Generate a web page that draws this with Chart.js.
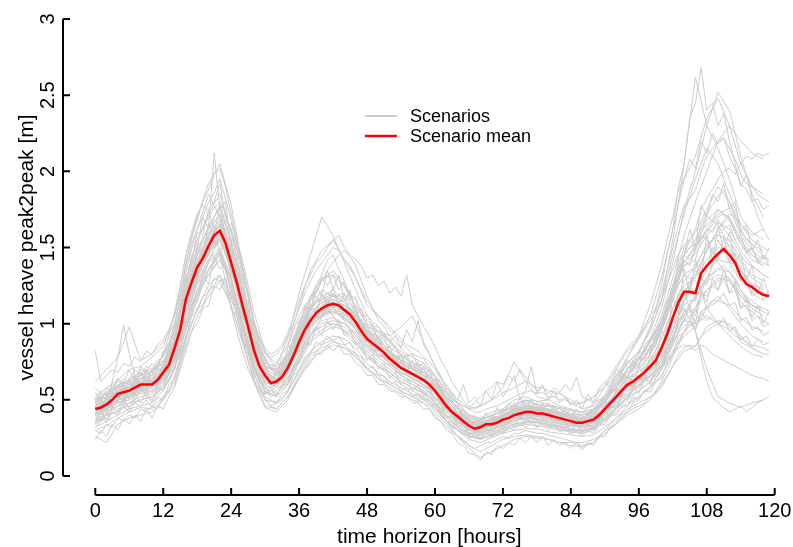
<!DOCTYPE html>
<html>
<head>
<meta charset="utf-8">
<script src="https://cdn.jsdelivr.net/npm/chart.js@4.4.1/dist/chart.umd.min.js"></script>
<style>
  html, body { margin: 0; padding: 0; background: #fff; }
  canvas { display: block; }
</style>
</head>
<body>
<canvas id="heave" width="793" height="547"></canvas>
<script>
// hourly scenario mean (hours 0..119)
const hours = [];
for (let h = 0; h < 120; h++) hours.push(h);
const meanHeave = [
  0.44,0.45,0.47,0.50,0.54,0.55,0.56,0.58,0.60,0.60,0.60,0.63,0.68,0.73,0.84,0.96,1.16,1.27,1.37,1.43,
  1.51,1.58,1.61,1.53,1.40,1.27,1.12,0.98,0.83,0.72,0.66,0.61,0.62,0.65,0.71,0.79,0.88,0.96,1.02,1.07,
  1.10,1.12,1.13,1.12,1.09,1.06,1.01,0.95,0.90,0.87,0.84,0.81,0.77,0.74,0.71,0.69,0.67,0.65,0.63,0.60,
  0.56,0.51,0.46,0.42,0.39,0.36,0.33,0.31,0.32,0.34,0.34,0.35,0.37,0.38,0.40,0.41,0.42,0.42,0.41,0.41,
  0.40,0.39,0.38,0.37,0.36,0.35,0.35,0.36,0.37,0.40,0.44,0.48,0.52,0.56,0.60,0.62,0.65,0.68,0.72,0.76,
  0.84,0.93,1.04,1.14,1.21,1.21,1.20,1.33,1.38,1.42,1.46,1.49,1.45,1.40,1.31,1.26,1.24,1.21,1.19,1.18
];

// scenarios read every 2 hours (0..118)
const scenHours = [];
for (let h = 0; h < 120; h += 2) scenHours.push(h);

const s01 = [.52,.58,.63,.70,.72,.78,.85,1.05,1.45,1.70,1.92,2.05,1.78,1.38,1.02,.80,.74,.86,1.12,1.35,1.48,1.55,1.42,1.30,1.12,1.05,.96,.88,.80,.77,.66,.55,.47,.40,.38,.42,.44,.50,.52,.49,.50,.46,.44,.42,.47,.58,.70,.82,.90,1.05,1.30,1.62,1.95,2.10,2.35,2.48,2.30,2.05,1.90,1.85];
const s02 = [.30,.33,.38,.42,.45,.44,.52,.62,.88,1.10,1.25,1.32,1.18,.92,.68,.50,.48,.55,.70,.82,.88,.92,.90,.84,.74,.68,.62,.58,.54,.51,.44,.36,.30,.24,.22,.25,.28,.30,.31,.31,.29,.28,.27,.26,.27,.32,.38,.44,.48,.52,.58,.72,.82,.85,.98,1.02,1.00,.92,.84,.80];
const s03 = [.48,.55,.50,.62,.58,.70,.74,.95,1.25,1.50,1.62,1.78,1.55,1.20,.88,.70,.66,.78,.95,1.10,1.22,1.18,1.20,1.08,.95,.92,.80,.78,.70,.68,.60,.50,.42,.36,.35,.38,.40,.45,.48,.44,.46,.42,.40,.38,.44,.52,.62,.74,.82,.95,1.15,1.55,2.05,2.62,2.30,2.15,1.95,1.70,1.60,1.55];
const s04 = [.40,.44,.50,.52,.58,.55,.62,.78,1.08,1.28,1.42,1.55,1.35,1.08,.78,.62,.58,.68,.84,.98,1.05,1.10,1.04,.96,.88,.80,.74,.68,.64,.60,.52,.42,.36,.30,.28,.31,.34,.36,.38,.37,.36,.34,.33,.32,.34,.40,.48,.56,.62,.70,.82,1.00,1.10,.95,.70,.52,.48,.45,.48,.50];
const s05 = [.36,.42,.48,.50,.55,.58,.70,.98,1.35,1.62,1.85,1.70,1.30,.95,.72,.58,.60,.75,.98,1.12,1.18,1.10,1.02,.92,.84,.78,.72,.66,.62,.58,.50,.40,.34,.28,.27,.30,.33,.38,.40,.40,.38,.36,.34,.33,.36,.45,.55,.66,.72,.84,1.00,1.25,1.45,1.55,1.70,1.65,1.50,1.35,1.25,1.20];
const s06 = [.50,.52,.58,.60,.62,.64,.66,.76,1.00,1.22,1.40,1.58,1.66,1.42,1.08,.82,.70,.72,.82,.96,1.06,1.14,1.12,1.06,.96,.90,.82,.76,.72,.68,.62,.52,.44,.38,.36,.36,.39,.42,.45,.44,.43,.41,.39,.37,.38,.42,.50,.58,.64,.70,.80,.95,1.15,1.32,1.48,1.62,1.70,1.55,1.45,1.38];
const s07 = [.55,.46,.60,.52,.68,.58,.72,.80,1.20,1.32,1.58,1.64,1.45,1.10,.85,.64,.66,.70,.90,1.05,1.08,1.20,1.05,1.04,.88,.86,.74,.74,.64,.66,.54,.48,.36,.35,.30,.36,.35,.42,.40,.44,.38,.40,.34,.37,.35,.46,.50,.64,.62,.76,.82,1.10,1.20,1.35,1.25,1.55,1.40,1.38,1.18,1.25];
const s08 = [.62,.70,.78,.98,.76,.80,.88,1.00,1.30,1.48,1.62,1.72,1.48,1.20,.90,.72,.68,.80,.98,1.15,1.28,1.35,1.25,1.15,1.02,.95,.88,.80,.74,.72,.64,.52,.45,.40,.37,.40,.43,.47,.50,.47,.46,.44,.41,.40,.43,.50,.60,.70,.78,.88,1.02,1.25,1.50,1.60,1.75,1.90,1.80,1.60,1.52,1.48];
const s09 = [.26,.22,.34,.38,.40,.42,.50,.60,.85,1.05,1.18,1.28,1.12,.88,.62,.46,.44,.52,.66,.78,.84,.88,.86,.80,.70,.64,.58,.54,.50,.48,.40,.32,.26,.20,.16,.20,.24,.26,.27,.26,.24,.22,.22,.20,.22,.28,.34,.40,.44,.50,.62,.78,.95,1.02,1.12,1.18,1.10,1.00,.92,.88];
const s10 = [.42,.48,.56,.58,.64,.62,.70,.86,1.20,1.40,1.58,1.68,1.50,1.18,.86,.68,.64,.74,.92,1.06,1.16,1.18,1.14,1.06,.94,.88,.80,.74,.70,.66,.58,.48,.40,.34,.33,.36,.38,.42,.44,.42,.42,.40,.38,.36,.40,.50,.60,.70,.76,.88,1.05,1.30,1.58,1.80,2.00,2.20,2.30,2.20,2.12,2.08];
const s11 = [.46,.50,.54,.58,.60,.64,.72,.90,1.22,1.45,1.60,1.68,1.46,1.18,.90,.74,.72,.90,1.20,1.45,1.70,1.58,1.40,1.22,1.05,.98,.88,.80,.74,.70,.62,.50,.42,.36,.34,.36,.40,.44,.46,.44,.42,.40,.38,.36,.38,.46,.54,.62,.68,.76,.90,1.10,1.28,1.38,1.52,1.58,1.55,1.42,1.32,1.28];
const s12 = [.38,.40,.46,.48,.52,.54,.60,.74,1.02,1.22,1.35,1.45,1.25,.98,.70,.55,.52,.60,.76,.90,.96,1.00,.98,.90,.80,.74,.68,.62,.58,.55,.48,.38,.32,.26,.25,.28,.31,.34,.36,.35,.34,.32,.30,.30,.31,.38,.45,.52,.56,.62,.72,.88,1.02,1.08,1.22,1.30,1.28,1.18,1.10,1.05];
const s13 = [.44,.46,.52,.55,.58,.62,.66,.80,1.12,1.34,1.48,1.60,1.38,1.10,.82,.66,.62,.70,.86,1.00,1.08,1.12,1.10,1.05,.98,.95,.92,.98,1.05,.88,.72,.58,.48,.44,.46,.50,.58,.75,.62,.52,.50,.55,.48,.44,.46,.52,.60,.68,.74,.82,.96,1.18,1.40,1.52,1.68,1.75,1.68,1.52,1.42,1.38];
const s14 = [.36,.38,.44,.46,.50,.52,.60,.76,1.08,1.28,1.42,1.50,1.30,1.02,.76,.60,.56,.64,.80,.94,1.02,1.04,1.00,.92,.82,.76,.70,.64,.60,.56,.48,.36,.26,.18,.12,.16,.20,.24,.26,.25,.24,.22,.20,.19,.22,.30,.38,.46,.52,.58,.70,.86,1.05,1.18,1.30,1.36,1.34,1.22,1.12,1.08];
const s15 = [.58,.50,.64,.56,.70,.66,.80,.92,1.28,1.55,1.72,1.85,1.60,1.25,.92,.72,.70,.80,1.00,1.18,1.30,1.32,1.24,1.12,1.00,.94,.84,.80,.72,.70,.62,.52,.44,.38,.36,.40,.42,.46,.50,.46,.46,.44,.40,.40,.44,.52,.64,.74,.82,.96,1.15,1.45,1.72,1.95,2.15,2.05,1.85,1.65,1.58,1.62];
const s16 = [.34,.40,.42,.48,.50,.52,.58,.70,.96,1.18,1.32,1.42,1.30,1.02,.74,.58,.54,.62,.78,.92,1.00,1.02,1.00,.94,.84,.78,.72,.66,.62,.58,.52,.42,.35,.30,.29,.31,.34,.37,.39,.38,.37,.35,.33,.32,.33,.38,.44,.50,.56,.62,.70,.82,.95,1.10,1.30,1.45,1.52,1.40,1.30,1.25];
const s17 = [.48,.52,.60,.62,.66,.68,.74,.90,1.24,1.46,1.64,1.76,1.52,1.22,.90,.70,.66,.76,.94,1.10,1.18,1.22,1.16,1.08,.96,.90,.82,.76,.72,.68,.60,.50,.42,.36,.35,.37,.40,.44,.46,.45,.44,.42,.40,.38,.41,.48,.58,.68,.74,.84,.98,1.20,1.40,1.50,1.62,1.72,1.76,1.58,1.48,1.42];
const s18 = [.40,.45,.50,.54,.56,.58,.64,.80,1.10,1.30,1.46,1.56,1.36,1.06,.80,.64,.60,.68,.84,.98,1.06,1.08,1.04,.98,.86,.80,.74,.68,.64,.60,.54,.44,.37,.31,.30,.33,.36,.39,.41,.40,.39,.37,.35,.34,.36,.42,.50,.58,.62,.68,.78,.92,1.02,1.00,1.05,1.00,.92,.85,.80,.78];
const s19 = [.42,.44,.48,.52,.54,.56,.62,.76,1.05,1.26,1.40,1.48,1.22,.90,.62,.45,.42,.50,.64,.76,.82,.86,.84,.78,.70,.66,.60,.56,.52,.50,.44,.36,.30,.26,.25,.27,.30,.33,.35,.35,.34,.33,.31,.30,.32,.40,.48,.56,.60,.66,.76,.90,1.08,1.18,1.28,1.32,1.30,1.20,1.12,1.10];
const s20 = [.44,.50,.56,.58,.62,.62,.70,.86,1.18,1.40,1.55,1.65,1.42,1.14,.84,.66,.62,.72,.90,1.04,1.12,1.14,1.10,1.02,.92,.86,.78,.72,.68,.64,.56,.46,.39,.33,.32,.35,.38,.42,.44,.43,.42,.40,.38,.37,.40,.48,.58,.68,.76,.90,1.10,1.40,1.75,2.00,2.30,2.52,2.40,2.10,1.85,1.70];
const s21 = [.46,.49,.55,.57,.61,.61,.69,.86,1.15,1.38,1.50,1.62,1.42,1.12,.84,.67,.63,.72,.89,1.03,1.11,1.14,1.10,1.02,.91,.85,.78,.72,.68,.64,.57,.47,.40,.34,.33,.35,.38,.41,.43,.42,.41,.39,.37,.36,.38,.45,.53,.61,.66,.74,.86,1.06,1.25,1.30,1.42,1.50,1.48,1.34,1.26,1.22];
const s22 = [.40,.44,.50,.52,.56,.58,.64,.80,1.12,1.32,1.48,1.58,1.38,1.10,.80,.64,.60,.68,.86,1.00,1.08,1.10,1.06,.98,.88,.82,.76,.70,.66,.62,.55,.45,.38,.32,.31,.33,.36,.39,.41,.40,.39,.37,.35,.34,.36,.43,.51,.58,.63,.70,.82,1.00,1.16,1.22,1.35,1.42,1.40,1.28,1.20,1.15];
const s23 = [.50,.54,.58,.62,.64,.66,.72,.88,1.20,1.42,1.56,1.66,1.45,1.15,.86,.68,.64,.74,.92,1.06,1.14,1.16,1.12,1.04,.93,.87,.80,.74,.70,.66,.58,.48,.41,.35,.34,.36,.39,.43,.45,.43,.42,.40,.38,.37,.39,.46,.55,.64,.70,.80,.95,1.18,1.38,1.46,1.58,1.66,1.62,1.48,1.38,1.32];
const s24 = [.32,.36,.40,.44,.46,.48,.56,.70,.98,1.20,1.36,1.46,1.28,1.00,.72,.56,.52,.60,.74,.88,.94,.98,.96,.88,.78,.72,.66,.60,.56,.52,.46,.36,.30,.26,.24,.26,.29,.32,.34,.33,.32,.30,.29,.28,.30,.36,.42,.48,.52,.58,.66,.80,.92,.98,1.10,1.15,1.12,1.04,.98,.95];
const coarseScenarios = [s01,s02,s03,s04,s05,s06,s07,s08,s09,s10,s11,s12,s13,s14,s15,s16,s17,s18,s19,s20,s21,s22,s23,s24];

// scenarios read hour by hour (0..119)
const h01 = [.52,.48,.58,.55,.64,.60,.70,.62,.72,.68,.74,.70,.82,.80,.98,1.05,1.35,1.40,1.60,1.58,1.75,1.80,1.92,1.70,1.62,1.42,1.30,1.10,.98,.82,.78,.70,.74,.72,.84,.88,1.02,1.08,1.18,1.20,1.30,1.25,1.32,1.22,1.28,1.15,1.18,1.05,1.06,.98,.98,.92,.90,.84,.82,.78,.80,.72,.74,.68,.66,.58,.55,.48,.46,.40,.40,.35,.38,.38,.40,.38,.44,.42,.48,.45,.50,.46,.48,.44,.48,.42,.45,.40,.44,.38,.42,.40,.44,.45,.52,.54,.62,.62,.72,.70,.78,.76,.86,.85,1.00,1.05,1.25,1.30,1.45,1.42,1.48,1.60,1.65,1.68,1.75,1.72,1.70,1.62,1.55,1.48,1.50,1.42,1.45,1.40];
const h02 = [.34,.38,.35,.42,.40,.46,.42,.48,.46,.50,.45,.52,.50,.60,.64,.78,.90,1.05,1.08,1.18,1.20,1.30,1.28,1.30,1.15,1.08,.90,.84,.66,.60,.52,.50,.48,.54,.56,.66,.70,.78,.80,.88,.86,.92,.88,.92,.86,.88,.80,.78,.70,.72,.66,.66,.60,.62,.56,.58,.52,.54,.50,.50,.44,.42,.36,.35,.30,.30,.25,.26,.24,.28,.26,.30,.28,.32,.30,.34,.32,.35,.32,.34,.30,.33,.29,.31,.27,.30,.26,.30,.28,.33,.34,.40,.40,.46,.46,.52,.50,.56,.55,.62,.64,.75,.80,.92,.94,1.00,.96,1.08,1.10,1.15,1.15,1.20,1.12,1.14,1.02,1.04,.96,.98,.92,.95];
const h03 = [.45,.52,.40,.56,.48,.62,.50,.66,.55,.70,.58,.72,.66,.85,.88,1.10,1.25,1.45,1.50,1.70,1.62,2.12,1.75,1.80,1.50,1.45,1.18,1.15,.90,.85,.70,.72,.66,.78,.75,.92,.95,1.12,1.08,1.25,1.18,1.35,1.22,1.32,1.15,1.22,1.05,1.10,.95,1.00,.88,.92,.80,.86,.74,.80,.70,.75,.65,.70,.58,.60,.48,.50,.40,.44,.35,.40,.32,.42,.36,.45,.40,.48,.42,.52,.44,.50,.42,.48,.40,.46,.38,.45,.36,.44,.34,.42,.38,.46,.46,.58,.56,.68,.64,.76,.72,.85,.80,.95,.98,1.15,1.20,1.42,1.45,1.62,1.50,1.78,1.70,1.85,1.80,1.92,1.75,1.80,1.60,1.65,1.48,1.55,1.42,1.50];
const h04 = [.30,.28,.34,.32,.38,.36,.40,.38,.44,.42,.46,.44,.52,.56,.66,.76,.92,1.00,1.10,1.12,1.22,1.25,1.32,1.22,1.12,1.00,.88,.76,.64,.56,.50,.46,.48,.50,.56,.62,.68,.74,.80,.82,.86,.88,.90,.86,.84,.82,.78,.74,.70,.68,.64,.62,.60,.58,.55,.54,.52,.50,.48,.46,.42,.38,.34,.30,.26,.24,.20,.18,.20,.22,.22,.24,.26,.25,.28,.28,.30,.29,.28,.28,.27,.26,.25,.24,.23,.22,.22,.23,.24,.26,.30,.32,.36,.38,.42,.44,.46,.48,.52,.54,.60,.66,.72,.80,.84,.86,.85,.92,.95,.98,1.00,1.02,.98,.95,.88,.86,.84,.82,.80,.80];
const h05 = [.48,.44,.52,.50,.56,.58,.55,.62,.60,.64,.62,.66,.72,.78,.90,1.02,1.22,1.32,1.45,1.50,1.58,1.66,1.70,1.60,1.45,1.32,1.18,1.02,.88,.76,.70,.64,.66,.70,.76,.84,.94,1.02,1.08,1.14,1.16,1.20,1.18,1.18,1.14,1.10,1.06,1.00,.94,.92,.88,.86,.82,.78,.76,.72,.72,.68,.68,.64,.60,.55,.50,.46,.42,.40,.36,.34,.35,.36,.38,.38,.40,.41,.44,.44,.46,.45,.44,.45,.44,.42,.42,.40,.40,.38,.38,.40,.42,.45,.50,.54,.60,.66,.70,.76,.80,.90,.98,1.10,1.25,1.45,1.62,1.90,2.05,2.35,2.45,2.68,2.40,2.45,2.30,2.38,2.20,2.05,1.90,1.98,1.82,1.70,1.62,1.55];
const h06 = [.40,.46,.44,.50,.56,.52,.60,.58,.56,.64,.62,.60,.70,.76,.82,.98,1.12,1.30,1.34,1.48,1.46,1.62,1.58,1.55,1.36,1.30,1.08,1.00,.80,.74,.62,.64,.60,.68,.70,.82,.86,.98,1.00,1.10,1.06,1.16,1.10,1.15,1.05,1.08,.98,.98,.88,.90,.82,.84,.76,.78,.70,.72,.66,.68,.62,.62,.54,.52,.44,.44,.36,.38,.30,.32,.30,.36,.32,.38,.35,.40,.38,.44,.40,.45,.40,.44,.38,.42,.36,.40,.34,.38,.33,.38,.35,.42,.42,.50,.50,.58,.58,.66,.64,.72,.70,.80,.82,.98,1.02,1.20,1.18,1.28,1.15,1.40,1.35,1.50,1.42,1.56,1.40,1.46,1.28,1.32,1.20,1.25,1.15,1.22];
const h07 = [.82,.62,.66,.70,.68,.74,.72,.78,.75,.82,.80,.86,.90,.96,1.05,1.20,1.38,1.52,1.62,1.70,1.80,1.86,1.95,1.82,1.68,1.52,1.35,1.18,1.00,.90,.82,.78,.80,.84,.92,1.00,1.10,1.20,1.28,1.35,1.40,1.45,1.50,1.48,1.42,1.38,1.30,1.22,1.15,1.10,1.05,1.02,.98,.94,.90,.86,.84,.82,.78,.75,.70,.64,.60,.55,.50,.48,.44,.42,.42,.44,.45,.46,.48,.50,.52,.54,.55,.56,.54,.55,.52,.52,.50,.50,.48,.47,.48,.50,.52,.56,.60,.66,.72,.78,.84,.88,.92,.98,1.05,1.10,1.20,1.35,1.50,1.65,1.78,1.82,1.88,2.00,2.10,2.15,2.20,2.22,2.15,2.08,1.98,1.92,1.90,1.85,1.82,1.80];
const h08 = [.24,.30,.26,.34,.30,.38,.34,.40,.36,.44,.38,.46,.44,.52,.58,.70,.82,.95,1.00,1.10,1.12,1.25,1.22,1.30,1.10,1.05,.90,.82,.68,.58,.50,.46,.44,.48,.52,.58,.64,.70,.74,.80,.80,.86,.82,.86,.80,.80,.74,.72,.66,.66,.60,.60,.56,.55,.52,.52,.48,.48,.44,.44,.38,.36,.30,.28,.22,.20,.15,.14,.10,.16,.14,.20,.18,.22,.20,.25,.22,.26,.22,.26,.20,.24,.20,.22,.18,.22,.17,.22,.20,.26,.26,.32,.34,.40,.42,.48,.50,.56,.58,.64,.70,.80,.90,1.02,1.08,1.10,1.05,1.20,1.18,1.25,1.22,1.30,1.20,1.22,1.10,1.12,1.02,1.05,.98,1.00];
const h09 = [.50,.52,.55,.58,.62,.60,.64,.66,.68,.66,.70,.72,.76,.80,.86,.94,1.08,1.20,1.30,1.38,1.46,1.52,1.60,1.68,1.62,1.50,1.36,1.20,1.02,.88,.76,.70,.68,.70,.74,.80,.90,1.00,1.10,1.20,1.28,1.35,1.40,1.45,1.48,1.44,1.38,1.28,1.18,1.10,1.02,.98,.92,.88,.84,.80,.78,.76,.74,.70,.66,.62,.56,.52,.48,.44,.40,.38,.37,.38,.40,.41,.43,.44,.46,.48,.49,.50,.49,.48,.47,.46,.45,.44,.43,.42,.42,.43,.44,.47,.50,.55,.60,.64,.70,.74,.78,.82,.88,.92,1.00,1.08,1.20,1.32,1.45,1.55,1.62,1.75,1.82,1.88,1.95,2.00,2.02,1.98,2.05,2.10,2.08,2.12,2.10,2.12];
const h10 = [.38,.42,.45,.48,.50,.52,.54,.55,.58,.58,.60,.62,.66,.70,.80,.92,1.10,1.22,1.32,1.38,1.45,1.52,1.55,1.48,1.35,1.22,1.08,.95,.80,.70,.64,.60,.60,.64,.68,.76,.84,.92,.98,1.02,1.05,1.06,1.08,1.06,1.04,1.00,.96,.90,.86,.82,.80,.78,.74,.72,.68,.66,.64,.62,.60,.58,.54,.49,.44,.40,.37,.34,.31,.30,.30,.32,.32,.34,.35,.36,.38,.39,.40,.40,.39,.39,.38,.37,.36,.35,.34,.33,.33,.34,.36,.38,.42,.46,.50,.54,.58,.62,.66,.70,.76,.82,.90,1.00,1.10,1.18,1.20,1.10,.95,.78,.62,.52,.48,.45,.42,.44,.46,.42,.45,.48,.50,.52];
const h11 = [.42,.36,.48,.44,.50,.46,.56,.50,.58,.54,.56,.60,.62,.70,.78,.88,1.05,1.15,1.26,1.30,1.40,1.44,1.48,1.38,1.28,1.12,1.00,.85,.72,.62,.58,.54,.56,.60,.68,.78,.90,1.02,1.15,1.25,1.32,1.42,1.45,1.36,1.28,1.18,1.10,1.00,.92,.88,.82,.78,.74,.70,.66,.64,.60,.58,.56,.52,.48,.44,.40,.36,.32,.30,.28,.26,.28,.30,.30,.32,.34,.34,.36,.37,.38,.38,.37,.36,.35,.34,.33,.32,.31,.30,.30,.31,.32,.35,.38,.42,.46,.50,.54,.56,.60,.62,.66,.70,.76,.86,.96,1.05,1.12,1.15,1.15,1.25,1.30,1.32,1.36,1.38,1.34,1.30,1.22,1.18,1.15,1.12,1.10,1.08];
const h12 = [.46,.48,.50,.54,.56,.58,.58,.60,.62,.62,.64,.66,.70,.76,.86,1.00,1.20,1.30,1.40,1.46,1.54,1.60,1.64,1.55,1.42,1.30,1.15,1.00,.85,.74,.68,.63,.64,.68,.74,.82,.92,1.00,1.06,1.10,1.14,1.16,1.16,1.14,1.10,1.08,1.02,.96,.92,.88,.86,.82,.78,.76,.72,.70,.68,.66,.64,.62,.58,.52,.48,.44,.40,.37,.34,.32,.33,.35,.35,.36,.38,.39,.41,.42,.43,.43,.42,.42,.41,.40,.39,.38,.37,.36,.36,.37,.38,.42,.46,.50,.55,.60,.64,.66,.70,.74,.80,.86,.96,1.08,1.22,1.35,1.45,1.50,1.52,1.65,1.72,1.78,1.84,1.88,1.80,1.72,1.62,1.55,1.52,1.48,1.45,1.42];
const h13 = [.44,.50,.46,.54,.52,.58,.56,.62,.58,.66,.62,.68,.72,.78,.88,1.00,1.18,1.28,1.40,1.44,1.52,1.60,1.64,1.55,1.40,1.28,1.12,.98,.84,.72,.66,.62,.64,.66,.72,.80,.90,.98,1.04,1.08,1.12,1.14,1.15,1.12,1.10,1.06,1.02,.98,.94,.96,.90,.94,.88,.92,.84,.96,.88,1.02,.86,.80,.72,.66,.58,.54,.50,.60,.48,.52,.46,.56,.50,.62,.52,.58,.66,.50,.56,.72,.54,.60,.50,.56,.48,.52,.46,.50,.44,.54,.48,.58,.62,.58,.70,.68,.76,.72,.82,.80,.90,.94,1.02,1.10,1.24,1.30,1.42,1.38,1.50,1.55,1.62,1.60,1.68,1.62,1.65,1.55,1.58,1.46,1.50,1.40,1.44,1.38];
const h14 = [.32,.36,.40,.44,.46,.50,.52,.56,.58,.62,.66,.72,.80,.92,1.08,1.25,1.45,1.60,1.72,1.78,1.74,1.62,1.45,1.28,1.10,.95,.82,.70,.62,.56,.54,.56,.62,.72,.84,.96,1.05,1.12,1.16,1.18,1.15,1.10,1.05,1.00,.94,.90,.86,.82,.78,.76,.72,.70,.68,.65,.62,.60,.58,.56,.54,.50,.46,.40,.36,.32,.30,.28,.27,.28,.30,.32,.34,.36,.37,.38,.38,.38,.37,.36,.36,.35,.34,.33,.32,.32,.33,.34,.36,.40,.44,.48,.54,.60,.66,.72,.78,.84,.90,.96,1.02,1.08,1.16,1.26,1.36,1.46,1.52,1.55,1.50,1.58,1.55,1.48,1.40,1.35,1.28,1.22,1.15,1.10,1.08,1.05,1.02,1.00];
const h15 = [.46,.48,.50,.52,.54,.55,.56,.58,.58,.60,.60,.62,.64,.66,.72,.80,.92,1.05,1.15,1.25,1.35,1.42,1.48,1.52,1.50,1.40,1.26,1.10,.95,.82,.72,.66,.62,.62,.65,.70,.76,.84,.92,.98,1.04,1.08,1.10,1.12,1.12,1.10,1.06,1.02,.96,.92,.88,.84,.80,.76,.74,.72,.70,.68,.66,.64,.60,.56,.52,.48,.44,.40,.37,.34,.32,.32,.33,.34,.36,.38,.40,.42,.44,.45,.45,.44,.43,.42,.41,.40,.39,.38,.37,.37,.36,.37,.38,.40,.44,.48,.52,.56,.60,.64,.68,.72,.78,.86,.95,1.05,1.15,1.25,1.32,1.40,1.48,1.55,1.62,1.68,1.72,1.70,1.65,1.60,1.55,1.52,1.50,1.48];
const h16 = [.40,.46,.42,.50,.52,.48,.56,.54,.60,.56,.62,.58,.66,.72,.80,.94,1.10,1.25,1.30,1.42,1.45,1.55,1.52,1.48,1.32,1.25,1.05,.95,.78,.70,.60,.62,.58,.64,.68,.76,.84,.92,.98,1.04,1.04,1.10,1.06,1.10,1.02,1.04,.95,.94,.85,.86,.78,.80,.72,.74,.66,.68,.62,.64,.58,.58,.50,.50,.42,.42,.34,.36,.28,.30,.28,.34,.30,.36,.32,.38,.34,.40,.36,.42,.36,.40,.35,.38,.34,.36,.30,.34,.30,.34,.32,.38,.40,.46,.46,.54,.52,.60,.58,.64,.62,.70,.72,.80,.86,.94,.98,1.02,.96,1.08,1.02,1.05,1.00,1.04,.95,.98,.90,.92,.85,.90,.86,.88];
const h17 = [.50,.56,.52,.60,.58,.64,.62,.70,.66,.72,.70,.76,.78,.86,.96,1.10,1.30,1.42,1.55,1.62,1.70,1.76,1.80,1.72,1.60,1.48,1.32,1.18,1.02,.90,.84,.80,.82,.86,.94,1.04,1.15,1.25,1.32,1.40,1.44,1.50,1.55,1.58,1.50,1.45,1.42,1.38,1.30,1.32,1.25,1.28,1.20,1.24,1.18,1.32,1.12,1.05,.98,.92,.85,.76,.70,.62,.56,.50,.46,.44,.46,.48,.50,.52,.55,.56,.58,.60,.62,.60,.58,.58,.56,.55,.54,.52,.50,.48,.48,.50,.52,.55,.58,.62,.66,.70,.74,.78,.82,.86,.90,.95,1.02,1.10,1.18,1.26,1.32,1.30,1.28,1.22,1.10,1.05,1.00,.98,.96,.92,.90,.88,.86,.85,.84,.82];
const h18 = [.35,.42,.50,.62,.78,.99,.80,.66,.58,.52,.50,.54,.58,.62,.70,.82,.98,1.10,1.20,1.26,1.32,1.38,1.42,1.35,1.22,1.10,.96,.84,.72,.62,.56,.52,.54,.58,.64,.72,.80,.88,.92,.96,.98,1.00,1.00,.98,.95,.92,.88,.84,.80,.76,.72,.70,.68,.65,.62,.60,.58,.56,.55,.52,.48,.44,.40,.36,.32,.30,.28,.26,.27,.28,.29,.30,.32,.33,.34,.35,.35,.36,.35,.34,.33,.32,.31,.30,.30,.29,.29,.30,.31,.34,.36,.40,.44,.48,.52,.56,.58,.62,.65,.68,.74,.82,.92,1.00,1.06,1.08,1.10,1.18,1.22,1.25,1.28,1.30,1.28,1.24,1.18,1.15,1.12,1.10,1.08,1.06];
const h19 = [.44,.40,.48,.46,.52,.50,.56,.54,.60,.58,.62,.64,.70,.76,.86,.98,1.15,1.25,1.36,1.42,1.50,1.56,1.60,1.52,1.40,1.26,1.12,.98,.84,.74,.66,.62,.62,.66,.72,.80,.88,.95,1.00,1.05,1.08,1.10,1.12,1.10,1.08,1.04,1.00,.96,.92,.90,.86,.84,.80,.78,.76,.74,.72,.70,.68,.66,.62,.58,.54,.50,.48,.46,.45,.48,.52,.56,.58,.62,.60,.66,.62,.70,.65,.60,.56,.58,.54,.58,.55,.60,.56,.65,.52,.50,.48,.50,.52,.56,.60,.64,.68,.70,.74,.78,.84,.88,.95,1.05,1.15,1.25,1.32,1.35,1.36,1.45,1.50,1.55,1.58,1.62,1.58,1.52,1.45,1.40,1.38,1.35,1.32,1.30];
const h20 = [.50,.42,.54,.46,.60,.52,.64,.54,.68,.58,.70,.60,.76,.72,.92,.96,1.28,1.26,1.50,1.44,1.66,1.58,1.78,1.56,1.56,1.28,1.24,.98,.92,.72,.74,.60,.70,.64,.80,.78,.98,.96,1.12,1.06,1.20,1.12,1.24,1.12,1.20,1.06,1.12,.96,1.00,.86,.92,.80,.86,.74,.80,.68,.76,.64,.72,.58,.64,.50,.52,.40,.46,.34,.40,.28,.38,.30,.40,.32,.44,.34,.46,.38,.48,.38,.46,.38,.44,.36,.42,.34,.40,.32,.40,.32,.42,.38,.50,.44,.58,.52,.66,.58,.72,.64,.80,.72,.96,.88,1.18,1.06,1.36,1.20,1.42,1.30,1.58,1.42,1.64,1.48,1.60,1.40,1.46,1.28,1.38,1.20,1.30,1.18];
const h21 = [.36,.42,.36,.46,.42,.50,.44,.54,.48,.56,.48,.58,.56,.68,.70,.88,.96,1.16,1.14,1.32,1.26,1.44,1.36,1.40,1.18,1.16,.94,.90,.70,.66,.54,.58,.52,.60,.60,.72,.74,.88,.86,.98,.92,1.02,.96,1.02,.92,.96,.86,.88,.76,.80,.70,.74,.64,.68,.60,.64,.56,.60,.52,.56,.46,.48,.38,.40,.32,.34,.26,.30,.24,.32,.26,.34,.30,.36,.32,.38,.34,.40,.32,.38,.32,.36,.30,.34,.28,.34,.28,.34,.30,.38,.36,.46,.44,.52,.50,.58,.54,.64,.60,.70,.70,.86,.88,1.04,1.02,1.12,1.00,1.22,1.14,1.30,1.22,1.36,1.20,1.28,1.10,1.16,1.04,1.12,1.00,1.08];
const h22 = [.44,.46,.50,.52,.56,.56,.58,.60,.62,.62,.62,.66,.70,.76,.86,.98,1.18,1.28,1.38,1.44,1.52,1.58,1.62,1.54,1.40,1.28,1.12,.98,.84,.72,.66,.62,.62,.66,.72,.80,.88,.96,1.02,1.06,1.10,1.12,1.12,1.10,1.08,1.04,1.00,.94,.90,.86,.84,.80,.76,.74,.70,.68,.66,.64,.62,.60,.56,.50,.46,.42,.38,.36,.33,.32,.33,.35,.36,.37,.39,.40,.42,.43,.44,.44,.43,.43,.42,.41,.40,.39,.38,.37,.38,.40,.42,.46,.52,.58,.64,.70,.78,.85,.92,1.02,1.12,1.25,1.38,1.55,1.70,1.88,1.95,2.08,2.02,2.20,2.12,2.25,2.18,2.22,2.10,2.02,1.92,1.88,1.80,1.82,1.75,1.78];
const h23 = [.42,.44,.48,.50,.52,.54,.56,.56,.58,.58,.60,.62,.66,.72,.82,.94,1.12,1.24,1.34,1.40,1.48,1.54,1.58,1.50,1.38,1.25,1.10,.96,.82,.72,.66,.62,.62,.66,.72,.80,.88,.94,1.00,1.04,1.06,1.08,1.08,1.06,1.04,1.00,.96,.92,.88,.84,.82,.78,.74,.72,.68,.66,.64,.62,.60,.58,.54,.48,.44,.40,.36,.34,.31,.30,.31,.32,.33,.34,.35,.36,.38,.39,.40,.40,.39,.39,.38,.37,.36,.35,.34,.33,.33,.34,.35,.38,.42,.46,.50,.54,.58,.60,.62,.64,.66,.68,.72,.76,.80,.84,.86,.85,.82,.86,.84,.80,.78,.76,.74,.72,.70,.68,.66,.65,.64,.62];
const h24 = [.48,.54,.50,.58,.56,.62,.60,.66,.62,.70,.68,.74,.80,.88,1.00,1.18,1.40,1.55,1.68,1.80,1.88,1.98,2.02,1.90,1.72,1.55,1.36,1.18,1.00,.86,.76,.70,.70,.74,.80,.88,.96,1.04,1.10,1.14,1.16,1.18,1.20,1.16,1.14,1.10,1.04,1.00,.94,.92,.88,.86,.82,.78,.76,.72,.70,.68,.66,.64,.58,.54,.48,.44,.40,.38,.35,.34,.34,.36,.36,.38,.40,.42,.44,.44,.46,.46,.45,.44,.43,.42,.41,.40,.39,.38,.38,.40,.42,.46,.50,.54,.58,.62,.66,.70,.74,.78,.84,.90,.98,1.08,1.18,1.30,1.38,1.40,1.42,1.55,1.60,1.65,1.70,1.72,1.68,1.60,1.52,1.48,1.45,1.42,1.40,1.38];
const hourlyScenarios = [h01,h02,h03,h04,h05,h06,h07,h08,h09,h10,h11,h12,h13,h14,h15,h16,h17,h18,h19,h20,h21,h22,h23,h24];

const xTicks = [0, 12, 24, 36, 48, 60, 72, 84, 96, 108, 120];
const yTicks = [0, 0.5, 1, 1.5, 2, 2.5, 3];
const yTickLabels = ['0', '0.5', '1', '1.5', '2', '2.5', '3'];

const FONT = '"Liberation Sans", Arial, Helvetica, sans-serif';
const GRAY = '#cccccc';
const RED = '#ff0000';

function pairs(xs, ys) {
    return ys.map((v, i) => ({ x: xs[i], y: v }));
}

function grayLine(label, xs, ys) {
    return {
        label: label,
        data: pairs(xs, ys),
        borderColor: GRAY,
        borderWidth: 1,
        pointRadius: 0,
        order: 1,
    };
}

const datasets = [{
    label: 'Scenario mean',
    data: pairs(hours, meanHeave),
    borderColor: RED,
    borderWidth: 2.5,
    pointRadius: 0,
    order: 0,
}];
coarseScenarios.forEach((s, i) => datasets.push(grayLine('Scenario ' + (i + 1), scenHours, s)));
hourlyScenarios.forEach((s, i) => datasets.push(grayLine('Scenario ' + (i + 25), hours, s)));

// R style axes, titles and legend, placed with the chart's own scales
const baseAxes = {
    id: 'baseAxes',
    afterDraw(chart) {
        const ctx = chart.ctx;
        const xs = chart.scales.x;
        const ys = chart.scales.y;
        const axisX = ys.getPixelForValue(0) + 19;   // x axis sits a bit under 0
        const axisY = chart.chartArea.left;
        const tick = 7;

        ctx.save();
        ctx.strokeStyle = '#000';
        ctx.fillStyle = '#000';
        ctx.lineWidth = 2;
        ctx.lineCap = 'butt';

        // x axis
        ctx.beginPath();
        ctx.moveTo(xs.getPixelForValue(xTicks[0]), axisX);
        ctx.lineTo(xs.getPixelForValue(xTicks[xTicks.length - 1]), axisX);
        xTicks.forEach(t => {
            const px = xs.getPixelForValue(t);
            ctx.moveTo(px, axisX);
            ctx.lineTo(px, axisX - tick);
        });
        ctx.stroke();

        // y axis
        ctx.beginPath();
        ctx.moveTo(axisY, ys.getPixelForValue(yTicks[0]));
        ctx.lineTo(axisY, ys.getPixelForValue(yTicks[yTicks.length - 1]));
        yTicks.forEach(t => {
            const py = ys.getPixelForValue(t);
            ctx.moveTo(axisY, py);
            ctx.lineTo(axisY + tick, py);
        });
        ctx.stroke();

        ctx.font = '20px ' + FONT;
        ctx.textAlign = 'center';
        ctx.textBaseline = 'alphabetic';
        xTicks.forEach(t => {
            ctx.fillText(String(t), xs.getPixelForValue(t), axisX + 22);
        });
        yTicks.forEach((t, i) => {
            ctx.save();
            ctx.translate(axisY - 9, ys.getPixelForValue(t));
            ctx.rotate(-Math.PI / 2);
            ctx.fillText(yTickLabels[i], 0, 0);
            ctx.restore();
        });

        // titles
        ctx.font = '21px ' + FONT;
        ctx.fillText('time horizon [hours]', xs.getPixelForValue(59), axisX + 48);
        const midY = (ys.getPixelForValue(0) + ys.getPixelForValue(3)) / 2;
        ctx.save();
        ctx.translate(33, midY);
        ctx.rotate(-Math.PI / 2);
        ctx.fillText('vessel heave peak2peak [m]', 0, 0);
        ctx.restore();

        // legend
        const items = [
            { text: 'Scenarios', color: GRAY, width: 2 },
            { text: 'Scenario mean', color: RED, width: 2.5 },
        ];
        ctx.font = '18px ' + FONT;
        ctx.textAlign = 'left';
        ctx.textBaseline = 'middle';
        items.forEach((it, i) => {
            const ly = 116 + i * 20;
            ctx.strokeStyle = it.color;
            ctx.lineWidth = it.width;
            ctx.beginPath();
            ctx.moveTo(365, ly);
            ctx.lineTo(397, ly);
            ctx.stroke();
            ctx.fillStyle = '#000';
            ctx.fillText(it.text, 410, ly + 1);
        });
        ctx.restore();
    }
};

new Chart(document.getElementById('heave'), {
    type: 'line',
    data: { datasets: datasets },
    options: {
        responsive: false,
        animation: false,
        devicePixelRatio: 1,
        events: [],
        layout: { padding: { left: 63, right: 3, top: 5, bottom: 52 } },
        elements: { line: { tension: 0 } },
        plugins: { legend: { display: false }, tooltip: { enabled: false } },
        scales: {
            x: { type: 'linear', display: false, min: -5.70, max: 122.70 },
            y: { type: 'linear', display: false, min: -0.1247, max: 3.092 },
        },
    },
    plugins: [baseAxes],
});
</script>
</body>
</html>
